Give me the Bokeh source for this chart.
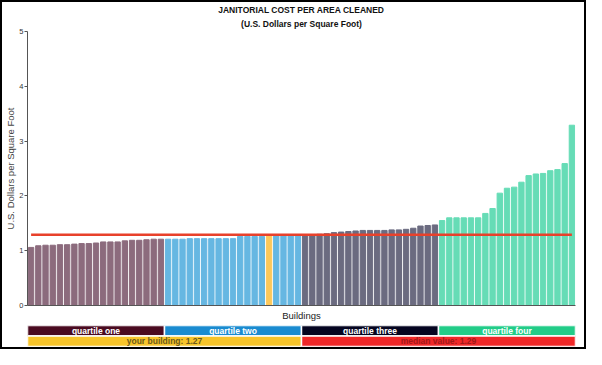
from bokeh.plotting import figure
from bokeh.models import Range1d, Title, ColumnDataSource, FixedTicker
from bokeh.layouts import column
from bokeh.core.properties import value
from bokeh.embed import file_html
from bokeh.resources import INLINE

# ---- data ----
quartile_one = [1.06, 1.09, 1.10, 1.10, 1.11, 1.11, 1.12, 1.13, 1.13, 1.14,
                1.16, 1.16, 1.16, 1.18, 1.19, 1.19, 1.20, 1.21, 1.21]
quartile_two = [1.21, 1.21, 1.21, 1.22, 1.22, 1.22, 1.22, 1.22, 1.22, 1.22,
                1.26, 1.26, 1.26, 1.26, 1.27, 1.27, 1.27, 1.27, 1.27]
quartile_three = [1.28, 1.29, 1.30, 1.31, 1.33, 1.34, 1.35, 1.36, 1.37, 1.37,
                  1.37, 1.37, 1.38, 1.38, 1.39, 1.41, 1.45, 1.46, 1.47]
quartile_four = [1.55, 1.60, 1.60, 1.60, 1.60, 1.60, 1.68, 1.77, 2.05, 2.14,
                 2.16, 2.25, 2.37, 2.40, 2.41, 2.46, 2.48, 2.59, 3.29]
your_building_index = 33
your_building_value = 1.27
median_value = 1.29
quartile_labels = ["quartile one", "quartile two", "quartile three", "quartile four"]
y_ticks = [0, 1, 2, 3, 4, 5]
title_text = "JANITORIAL COST PER AREA CLEANED"
subtitle_text = "(U.S. Dollars per Square Foot)"

FONT = value("Liberation Sans")
bar_colors = ["#8c6b7d", "#66b7e2", "#6b6b80", "#66dcb6"]
strip_colors = ["#4a0a20", "#1a8bd0", "#050520", "#22cc88"]
highlight_color = "#fdc85a"

xs, tops, colors = [], [], []
for qi, q in enumerate([quartile_one, quartile_two, quartile_three, quartile_four]):
    for v in q:
        xs.append(len(xs))
        tops.append(v)
        colors.append(bar_colors[qi])
colors[your_building_index] = highlight_color
n = len(xs)

src = ColumnDataSource(dict(x=xs, top=tops, color=colors))

p = figure(width=582, height=321, x_range=Range1d(-0.5, n - 0.5), y_range=Range1d(0, 5),
           output_backend="svg", toolbar_location=None,
           min_border_left=18, min_border_right=9, min_border_top=27, min_border_bottom=17)
p.add_layout(Title(text=subtitle_text, align="center", text_font_size="8.5px",
                   text_font_style="bold", text_font="Liberation Sans", text_color="#111111",
                   text_line_height=1.0, standoff=5), "above")
p.add_layout(Title(text=title_text, align="center", text_font_size="8.5px",
                   text_font_style="bold", text_font="Liberation Sans", text_color="#111111",
                   text_line_height=1.0, standoff=0), "above")

p.vbar(x="x", top="top", width=0.74, color="color", source=src)
p.line(x=[0, n - 1], y=[median_value, median_value], line_color="#e8412b", line_width=2.5)

p.xgrid.visible = False
p.ygrid.visible = False
p.outline_line_color = None

p.xaxis.ticker = FixedTicker(ticks=[])
p.xaxis.axis_label = "Buildings"
p.xaxis.axis_label_text_font = "Liberation Sans"
p.xaxis.axis_label_text_font_style = "normal"
p.xaxis.axis_label_text_font_size = "9.5px"
p.xaxis.axis_label_text_color = "#222222"
p.xaxis.axis_label_standoff = 4
p.xaxis.axis_line_color = "#555555"
p.xaxis.minor_tick_line_color = None
p.xaxis.major_tick_line_color = None

p.yaxis.ticker = FixedTicker(ticks=y_ticks)
p.yaxis.axis_label = "U.S. Dollars per Square Foot"
p.yaxis.axis_label_text_font = "Liberation Sans"
p.yaxis.axis_label_text_font_style = "normal"
p.yaxis.axis_label_text_font_size = "9.5px"
p.yaxis.axis_label_text_color = "#444444"
p.yaxis.axis_label_standoff = 0
p.yaxis.major_label_text_font = "Liberation Sans"
p.yaxis.major_label_text_font_size = "7.5px"
p.yaxis.major_label_text_color = "#333333"
p.yaxis.major_label_standoff = 1
p.yaxis.major_tick_in = 0
p.yaxis.major_tick_out = 3
p.yaxis.minor_tick_line_color = None
p.yaxis.axis_line_color = "#555555"
p.yaxis.major_tick_line_color = "#555555"

# ---- legend strips ----
s = figure(width=582, height=24, x_range=Range1d(0, 4), y_range=Range1d(0, 2),
           output_backend="svg", toolbar_location=None,
           x_axis_location=None, y_axis_location=None,
           min_border_left=18, min_border_right=8, min_border_top=2, min_border_bottom=1)
s.xgrid.visible = False
s.ygrid.visible = False
s.outline_line_color = None

qsrc = ColumnDataSource(dict(left=[0, 1, 2, 3], right=[1, 2, 3, 4],
                             color=strip_colors, label=quartile_labels,
                             cx=[0.5, 1.5, 2.5, 3.5]))
s.quad(left="left", right="right", bottom=1, top=2, fill_color="color",
       line_color="white", line_width=1.5, source=qsrc)
s.text(x="cx", y=1.5, text="label", source=qsrc, text_color="white", text_font=FONT,
       text_font_style="bold", text_font_size="8.5px", text_align="center", text_baseline="middle")

row2_labels = ["your building: %.2f" % your_building_value, "median value: %.2f" % median_value]
rsrc = ColumnDataSource(dict(left=[0, 2], right=[2, 4], color=["#f7c42a", "#f02828"],
                             label=row2_labels, cx=[1, 3], tcolor=["#6b5a1a", "#a01818"]))
s.quad(left="left", right="right", bottom=0, top=1, fill_color="color",
       line_color="white", line_width=1.5, source=rsrc)
s.text(x="cx", y=0.5, text="label", source=rsrc, text_color="tcolor", text_font=FONT,
       text_font_style="bold", text_font_size="8.5px", text_align="center", text_baseline="middle")

layout = column(p, s, spacing=0, styles={"border": "2px solid black"})

open("out.html", "w").write(file_html(layout, INLINE))
